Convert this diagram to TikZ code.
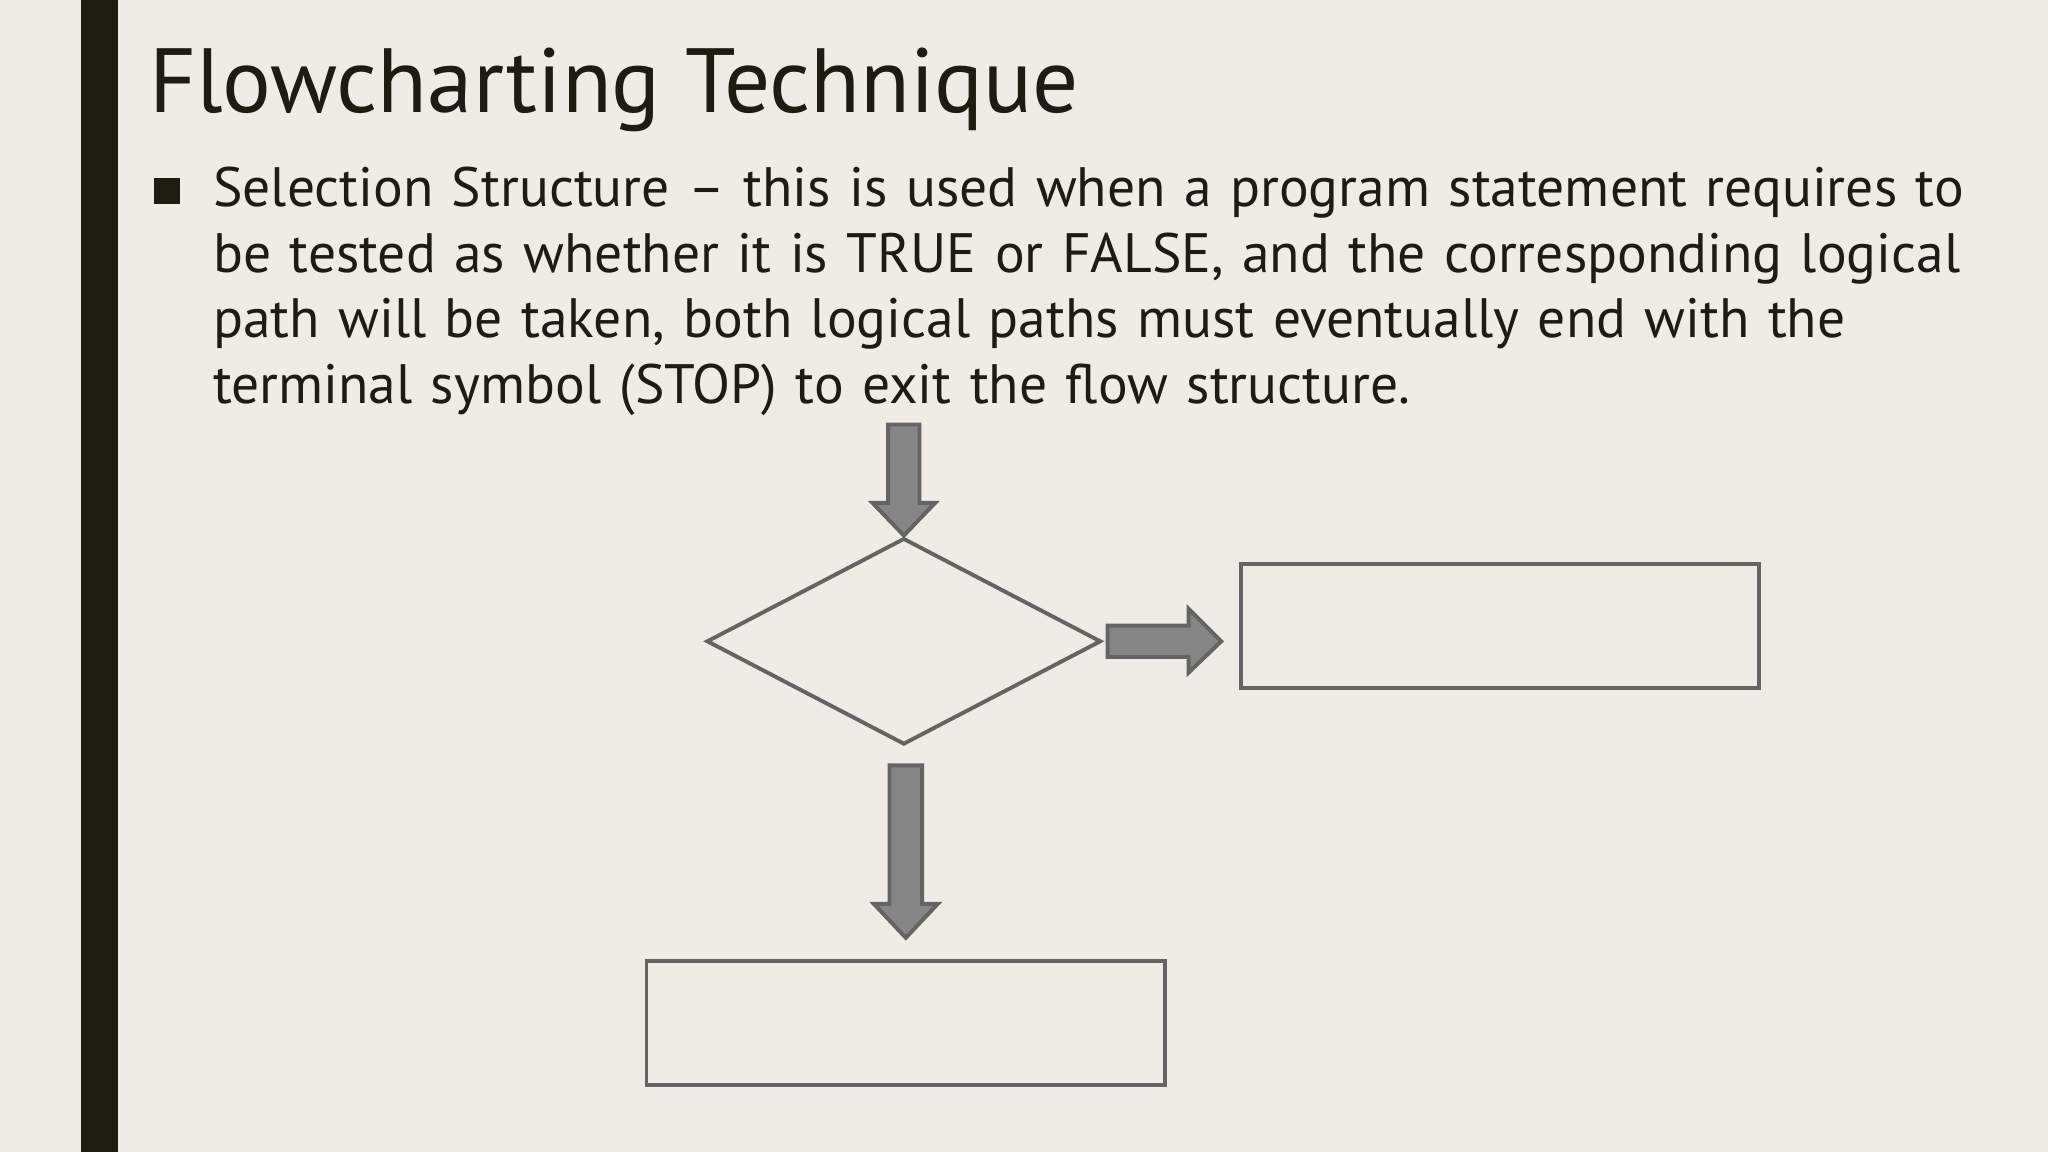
\documentclass[tikz,border=0pt]{standalone}
\usepackage{fontspec}
\setmainfont{PT Sans}
\usetikzlibrary{shapes.geometric}
\definecolor{bg}{HTML}{EFECE5}
\definecolor{ink}{HTML}{1C1C10}
\definecolor{arrfill}{HTML}{858585}
\definecolor{arrline}{HTML}{646464}
\tikzset{
  fatarrow/.style={fill=arrfill,draw=arrline,line width=3pt,line join=miter},
  boxst/.style={draw=arrline,line width=3pt,minimum width=397pt,minimum height=95pt,inner sep=0pt},
}
\begin{document}
\begin{tikzpicture}[x=1pt,y=-1pt]
\fill[bg] (0,0) rectangle (1568,882);
\useasboundingbox (0,0) rectangle (1568,882);
\fill[ink] (62,0) rectangle (90,882);
\node[anchor=base west,inner sep=0pt,font=\fontsize{69.8}{80}\selectfont,text=ink] (title) at (114,86) {Flowcharting Technique};
\fill[ink] (118,136) rectangle (138,156);
\node[anchor=base west,inner sep=0pt,text width=1450pt,align=left,font=\fontsize{42.5}{50.3}\selectfont,text=ink] (body) at (163,158)
{Selection Structure – this is used when a program statement requires to\\
be tested as whether it is TRUE or FALSE, and the corresponding logical\\
path will be taken, both logical paths must eventually end with the\\
terminal symbol (STOP) to exit the flow structure.};
% down arrow 1
\draw[fatarrow] (680,325) -- (704,325) -- (704,385) -- (716,385) -- (692,410) -- (668,385) -- (680,385) -- cycle;
% diamond
\node[draw=arrline,line width=3pt,diamond,aspect=1.91,minimum width=302pt,minimum height=158pt,inner sep=0pt] (dec) at (692,491) {};
% right arrow
\draw[fatarrow] (848,479) -- (910,479) -- (910,466) -- (935,491) -- (910,515) -- (910,503) -- (848,503) -- cycle;
\node[boxst] (right) at (1148.5,479.5) {};
% down arrow 2
\draw[fatarrow] (681,586) -- (706,586) -- (706,692) -- (718,692) -- (693.5,718) -- (669,692) -- (681,692) -- cycle;
\node[boxst] (bottom) at (693.5,783) {};
\end{tikzpicture}
\end{document}
